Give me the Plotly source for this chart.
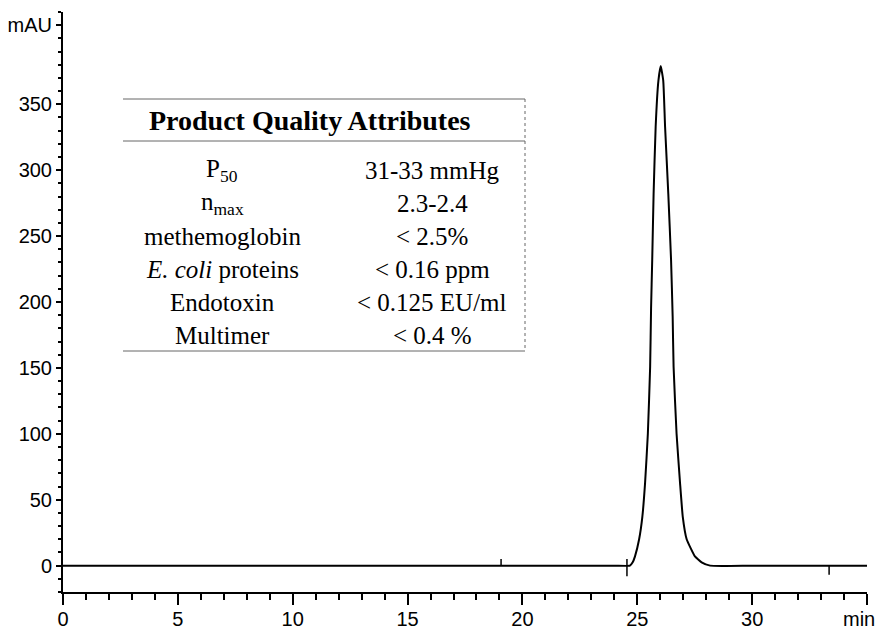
import plotly.graph_objects as go

# Chromatogram trace: retention time (min) and absorbance (mAU)
time_min = [0.0, 10.0, 19.0, 24.0, 24.68, 24.80, 24.90, 25.08, 25.22, 25.34, 25.46,
            25.56, 25.60, 25.65, 25.71, 25.80, 25.92, 26.02, 26.13, 26.21, 26.35,
            26.47, 26.54, 26.58, 26.71, 26.86, 26.98, 27.15, 27.51, 27.80, 28.17,
            30.0, 35.0]
absorbance_mau = [0, 0, 0, 0, 0, 2.5, 7, 20, 37, 63, 100,
                  151, 195, 232, 282, 333, 368, 379, 368, 333, 282,
                  232, 189, 151, 100, 63, 37, 20, 7, 2.5, 0,
                  0, 0]

# Integration event marks on the baseline
event_times = [19.07, 24.55, 33.35]
event_low = [0, -8, -7]
event_high = [5, 5, 0]

# Axis ticks
x_ticks = [0, 5, 10, 15, 20, 25, 30, 35]
x_tick_labels = ["0", "5", "10", "15", "20", "25", "30", ""]
y_ticks = [0, 50, 100, 150, 200, 250, 300, 350, 410]
y_tick_labels = ["0", "50", "100", "150", "200", "250", "300", "350", "mAU"]

# Inset table content
table_title = "Product Quality Attributes"
attributes = ["P<sub>50</sub>", "n<sub>max</sub>", "methemoglobin",
              "<i>E. coli</i> proteins", "Endotoxin", "Multimer"]
specifications = ["31-33 mmHg", "2.3-2.4", "< 2.5%", "< 0.16 ppm",
                  "< 0.125 EU/ml", "< 0.4 %"]

W, H = 881, 632
M_L, M_R, M_T, M_B = 63, 14, 12, 40
PW, PH = W - M_L - M_R, H - M_T - M_B


def px(x):
    return (x - M_L) / PW


def py(y):
    return (H - M_B - y) / PH


fig = go.Figure()

fig.add_trace(go.Scatter(
    x=time_min, y=absorbance_mau, mode="lines",
    line=dict(color="black", width=2, shape="spline", smoothing=0.4),
    hoverinfo="skip", showlegend=False,
))

for t, lo, hi in zip(event_times, event_low, event_high):
    fig.add_trace(go.Scatter(
        x=[t, t], y=[lo, hi], mode="lines",
        line=dict(color="black", width=1.5),
        hoverinfo="skip", showlegend=False,
    ))

axis_font = dict(family="Liberation Sans, Arial, sans-serif", size=20, color="black")

fig.update_xaxes(
    range=[0, 35], showline=True, linecolor="black", linewidth=2,
    showgrid=False, zeroline=False, mirror=False, automargin=False,
    tickmode="array", tickvals=x_ticks, ticktext=x_tick_labels,
    ticks="outside", ticklen=11, tickwidth=1.5, tickcolor="black",
    ticklabelstandoff=-3,
    minor=dict(dtick=1, tick0=0, ticks="outside", ticklen=6,
               tickwidth=1.5, tickcolor="black", showgrid=False),
    tickfont=axis_font,
)
fig.update_yaxes(
    range=[-20, 420], showline=True, linecolor="black", linewidth=2,
    showgrid=False, zeroline=False, automargin=False,
    tickmode="array", tickvals=y_ticks, ticktext=y_tick_labels,
    ticks="outside", ticklen=5, tickwidth=1.5, tickcolor="black",
    minor=dict(dtick=10, tick0=0, ticks="outside", ticklen=3,
               tickwidth=1.5, tickcolor="black", showgrid=False),
    tickfont=axis_font,
)

# Table frame
frame_col = "#666666"
tbl_l, tbl_r, tbl_t, tbl_h, tbl_b = 123, 525, 99, 141, 351
shapes = []
for yy in (tbl_t, tbl_h, tbl_b):
    shapes.append(dict(type="line", xref="paper", yref="paper",
                       x0=px(tbl_l), x1=px(tbl_r), y0=py(yy), y1=py(yy),
                       line=dict(color=frame_col, width=1)))
shapes.append(dict(type="line", xref="paper", yref="paper",
                   x0=px(tbl_r), x1=px(tbl_r), y0=py(tbl_t), y1=py(tbl_b),
                   line=dict(color=frame_col, width=1, dash="dot")))
fig.update_layout(shapes=shapes)

serif = "Liberation Serif, Times New Roman, serif"
annotations = [
    dict(text="<b>" + table_title + "</b>", x=px(310), y=py(121),
         xref="paper", yref="paper", showarrow=False,
         xanchor="center", yanchor="middle",
         font=dict(family=serif, size=28, color="black")),
    dict(text="min", x=px(859), y=py(619), xref="paper", yref="paper",
         showarrow=False, xanchor="center", yanchor="middle", font=axis_font),
]
row_y = [170, 203, 236, 269, 302, 335]
for name, spec, yy in zip(attributes, specifications, row_y):
    annotations.append(dict(text=name, x=px(222), y=py(yy), xref="paper", yref="paper",
                            showarrow=False, xanchor="center", yanchor="middle",
                            font=dict(family=serif, size=25, color="black")))
    annotations.append(dict(text=spec, x=px(432), y=py(yy), xref="paper", yref="paper",
                            showarrow=False, xanchor="center", yanchor="middle",
                            font=dict(family=serif, size=25, color="black")))
fig.update_layout(annotations=annotations)

fig.update_layout(
    width=W, height=H,
    margin=dict(l=M_L, r=M_R, t=M_T, b=M_B),
    paper_bgcolor="white", plot_bgcolor="white",
)

fig.write_html("out.html")
